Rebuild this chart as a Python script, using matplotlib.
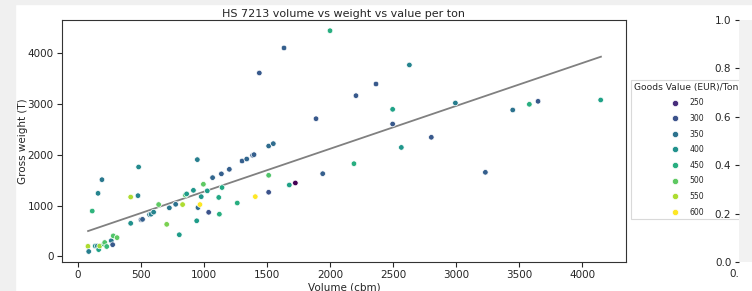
import matplotlib
matplotlib.use("Agg")
import matplotlib.pyplot as plt
from matplotlib.lines import Line2D
from matplotlib.patches import Rectangle
from matplotlib.colors import Normalize

# volume (cbm), gross weight (T), goods value (EUR/ton)
volume = [79, 85, 113, 137, 153, 159, 164, 172, 190, 206, 212, 228, 264, 275, 280, 310,
          418, 418, 476, 481, 500, 512, 568, 580, 600, 640, 704, 725, 775, 804, 830, 852,
          862, 916, 947, 942, 952, 968, 978, 995, 1026, 1037, 1068, 1117, 1122, 1138, 1143,
          1201, 1264, 1302, 1339, 1386, 1397, 1407, 1513, 1513, 1513, 1550, 1677, 1725, 1942,
          2190, 1439, 1635, 2000, 1889, 2206, 2365, 2630, 2497, 2497, 2566, 2804, 2995, 3450,
          3582, 3651, 3233, 4148]
weight = [197, 95, 892, 203, 203, 1241, 133, 203, 1510, 240, 272, 193, 307, 229, 403, 368,
          650, 1168, 1195, 1760, 722, 728, 822, 830, 870, 1020, 630, 955, 1025, 425, 1020, 1205,
          1230, 1300, 1905, 700, 960, 1020, 1175, 1420, 1290, 867, 1550, 1160, 830, 1625, 1355,
          1714, 1050, 1878, 1917, 1990, 2003, 1176, 2173, 1596, 1262, 2220, 1405, 1445, 1628,
          1825, 3612, 4105, 4445, 2711, 3165, 3395, 3770, 2896, 2607, 2145, 2345, 3021, 2883,
          2995, 3054, 1655, 3080]
value = [550, 370, 460, 400, 380, 380, 430, 540, 360, 480, 490, 470, 360, 310, 490, 500,
         400, 550, 380, 390, 320, 320, 360, 370, 380, 500, 520, 360, 350, 420, 550, 490,
         420, 410, 370, 420, 340, 600, 410, 500, 420, 300, 330, 440, 450, 320, 440,
         320, 450, 320, 330, 320, 320, 600, 340, 490, 300, 340, 430, 200, 320,
         450, 310, 320, 450, 310, 310, 310, 380, 430, 310, 410, 310, 370, 350,
         450, 310, 320, 430]

# regression line end points
fit_x = [80, 4150]
fit_y = [498, 3933]

legend_values = [250, 300, 350, 400, 450, 500, 550, 600]

W, H = 752, 291
txt = "#262626"
plt.rcParams.update({"text.color": txt, "axes.labelcolor": txt,
                     "xtick.color": txt, "ytick.color": txt,
                     "axes.edgecolor": "#333333"})

fig = plt.figure(figsize=(W / 100, H / 100), dpi=100)
fig.patch.set_facecolor("white")

ax = fig.add_axes([62 / W, 29 / H, 564 / W, 242 / H])
norm = Normalize(vmin=200, vmax=600)
cmap = plt.get_cmap("viridis")
ax.scatter(volume, weight, c=value, cmap=cmap, norm=norm, s=16,
           edgecolors="white", linewidths=0.5, zorder=3)
ax.plot(fit_x, fit_y, color="gray", lw=1.3, zorder=2)

ax.set_xlim(-127, 4349)
ax.set_ylim(-112, 4656)
ax.set_xticks([0, 500, 1000, 1500, 2000, 2500, 3000, 3500, 4000])
ax.set_yticks([0, 1000, 2000, 3000, 4000])
ax.tick_params(labelsize=7.5, length=3.5, width=0.8, pad=2.5)
ax.set_xlabel("Volume (cbm)", fontsize=7.5, labelpad=1.5)
ax.set_ylabel("Gross weight (T)", fontsize=7.5)
ax.yaxis.set_label_coords(-0.06, 0.5)
ax.set_title("HS 7213 volume vs weight vs value per ton", fontsize=8, pad=2.5)

handles = [Line2D([], [], ls="", marker="o", markersize=4.5,
                  markerfacecolor=cmap(norm(v)), markeredgecolor="white",
                  markeredgewidth=0.5) for v in legend_values]
leg = ax.legend(handles, [str(v) for v in legend_values],
                title="Goods Value (EUR)/Ton", fontsize=5.6, title_fontsize=6.6,
                loc="upper left", bbox_to_anchor=(631 / W, 1 - 80 / H),
                bbox_transform=fig.transFigure, borderaxespad=0,
                handletextpad=0.8, labelspacing=0.85, borderpad=0.35,
                frameon=True, fancybox=False)
leg.get_frame().set_edgecolor("#d0d0d0")
leg.get_frame().set_linewidth(0.8)

# second, mostly cut-off axes at the right
ax2 = fig.add_axes([739 / W, 29 / H, 0.3, 242 / H])
ax2.set_facecolor("#f2f2f2")
ax2.set_ylim(0, 1)
ax2.set_yticks([0, 0.2, 0.4, 0.6, 0.8, 1.0])
ax2.set_yticklabels(["0.0", "0.2", "0.4", "0.6", "0.8", "1.0"])
ax2.set_xlim(0, 1)
ax2.set_xticks([])
ax2.text(0, -0.03, "0.", transform=ax2.transAxes, ha="right", va="top",
         fontsize=7.5)
ax2.tick_params(labelsize=7.5, length=3, width=0.8, pad=2.5)
for s in ax2.spines.values():
    s.set_visible(False)

# screenshot margins
gray = "#f0f0f0"
fig.patches.append(Rectangle((0, 0), 15 / W, 1, transform=fig.transFigure,
                             color=gray, zorder=10))
fig.patches.append(Rectangle((0, 1 - 4 / H), 1, 4 / H, transform=fig.transFigure,
                             color=gray, zorder=10))

fig.savefig("out.png", dpi=100)
